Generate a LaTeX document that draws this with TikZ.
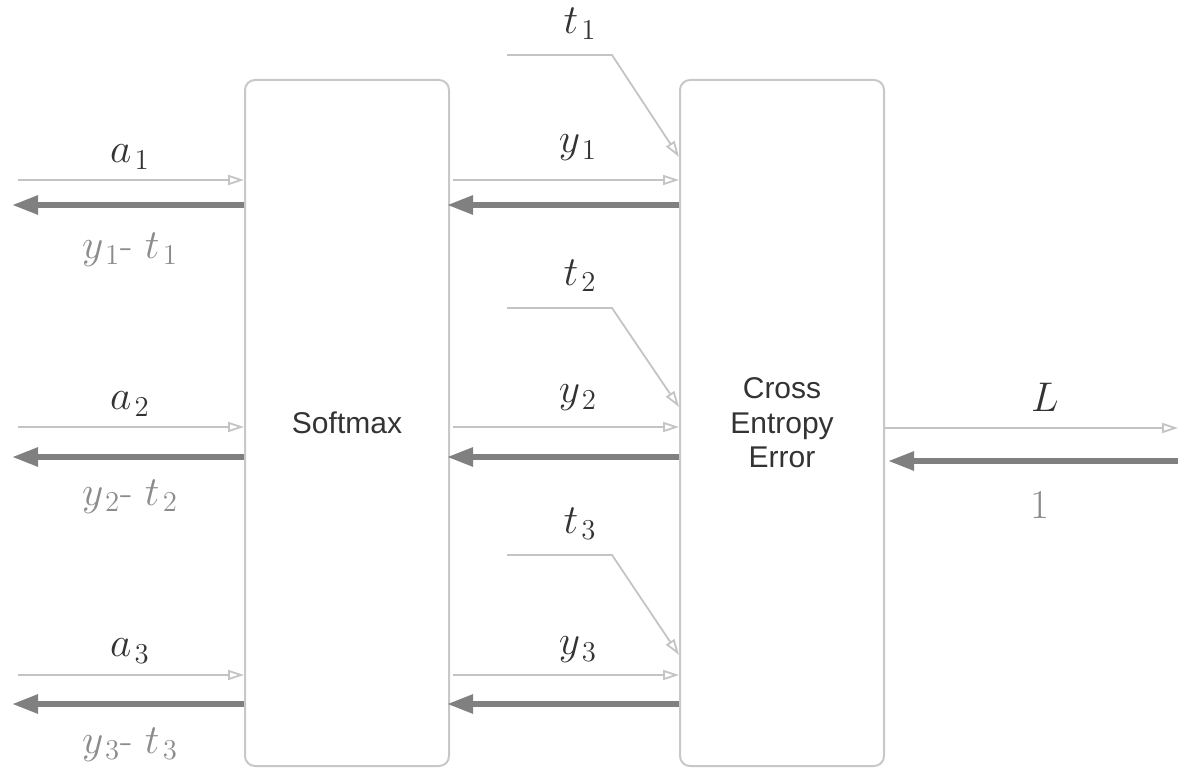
\documentclass[tikz,border=0pt]{standalone}
\usepackage{fontspec}
\setsansfont{Liberation Sans}
\usetikzlibrary{arrows.meta,calc}
\definecolor{thinc}{HTML}{C4C4C4}
\definecolor{thickc}{HTML}{808080}
\definecolor{boxc}{HTML}{C8C8C8}
\definecolor{labc}{HTML}{333333}
\definecolor{glab}{HTML}{8C8C8C}
\newcommand{\sbs}[1]{_{\mkern2mu #1}}
\tikzset{
  blk/.style={draw=boxc, line width=1pt, rounded corners=5pt, minimum width=102pt, minimum height=343pt, inner sep=0pt, font=\sffamily\fontsize{15}{17.3}\selectfont, text=labc, align=center},
  fwd/.style={draw=thinc, line width=0.9pt, -{Triangle[open, length=8pt, width=5pt]}},
  bwd/.style={draw=thickc, line width=2.8pt, -{Triangle[length=13pt, width=9pt]}},
  lab/.style={font=\fontsize{20.5}{24}\selectfont, text=labc, inner sep=0pt},
  glabel/.style={font=\fontsize{20.5}{24}\selectfont, text=glab, inner sep=0pt},
}
\begin{document}
\begin{tikzpicture}[x=0.5pt, y=-0.5pt]
\useasboundingbox (0,0) rectangle (1188,781);
% boxes
\node[blk] (sm) at (347,423) {Softmax};
\node[blk] (ce) at (782,423) {Cross\\Entropy\\Error};
% coordinates
\foreach \i/\yf/\yb in {1/180/205, 2/427/457, 3/675/704}{
  \coordinate (ain\i) at (18,\yf);
  \coordinate (aout\i) at (12,\yb);
  \coordinate (ys\i) at (453,\yf);
  \coordinate (yb\i) at (447,\yb);
}
% left arrows
\draw[fwd] (ain1) -- (ain1 -| sm.west);
\draw[bwd] (aout1 -| sm.west) -- (aout1);
\draw[fwd] (ain2) -- (ain2 -| sm.west);
\draw[bwd] (aout2 -| sm.west) -- (aout2);
\draw[fwd] (ain3) -- (ain3 -| sm.west);
\draw[bwd] (aout3 -| sm.west) -- (aout3);
% middle arrows
\draw[fwd] (ys1) -- (ys1 -| ce.west);
\draw[bwd] (yb1 -| ce.west) -- (yb1);
\draw[fwd] (ys2) -- (ys2 -| ce.west);
\draw[bwd] (yb2 -| ce.west) -- (yb2);
\draw[fwd] (ys3) -- (ys3 -| ce.west);
\draw[bwd] (yb3 -| ce.west) -- (yb3);
% t inputs
\coordinate (t1s) at (507,55); \coordinate (t1k) at (612,55); \coordinate (t1e) at (680,157);
\coordinate (t2s) at (507,308); \coordinate (t2k) at (612,308); \coordinate (t2e) at (680,407);
\coordinate (t3s) at (507,555); \coordinate (t3k) at (612,555); \coordinate (t3e) at (680,655);
\draw[fwd] (t1s) -- (t1k) -- (t1e -| ce.west);
\draw[fwd] (t2s) -- (t2k) -- (t2e -| ce.west);
\draw[fwd] (t3s) -- (t3k) -- (t3e -| ce.west);
% right side
\coordinate (Lend) at (1178,428);
\coordinate (oneS) at (1178,461);
\coordinate (oneE) at (888,461);
\draw[fwd] (Lend -| ce.east) -- (Lend);
\draw[bwd] (oneS) -- (oneE);
% labels
\node[lab] (la1) at (130,157) {$a\sbs{1}$};
\node[lab] (la2) at (130,404) {$a\sbs{2}$};
\node[lab] (la3) at (130,651) {$a\sbs{3}$};
\node[glabel] (lg1) at (130,250) {$y\sbs{1}$- $t\sbs{1}$};
\node[glabel] (lg2) at (130,497) {$y\sbs{2}$- $t\sbs{2}$};
\node[glabel] (lg3) at (130,745) {$y\sbs{3}$- $t\sbs{3}$};
\node[lab] (ly1) at (578,148) {$y\sbs{1}$};
\node[lab] (ly2) at (578,398) {$y\sbs{2}$};
\node[lab] (ly3) at (578,650) {$y\sbs{3}$};
\node[lab] (lt1) at (580,24) {$t\sbs{1}$};
\node[lab] (lt2) at (580,276) {$t\sbs{2}$};
\node[lab] (lt3) at (580,524) {$t\sbs{3}$};
\node[lab] (lL) at (1045,397) {$L$};
\node[glabel] (l1) at (1040,505) {1};
\end{tikzpicture}
\end{document}
